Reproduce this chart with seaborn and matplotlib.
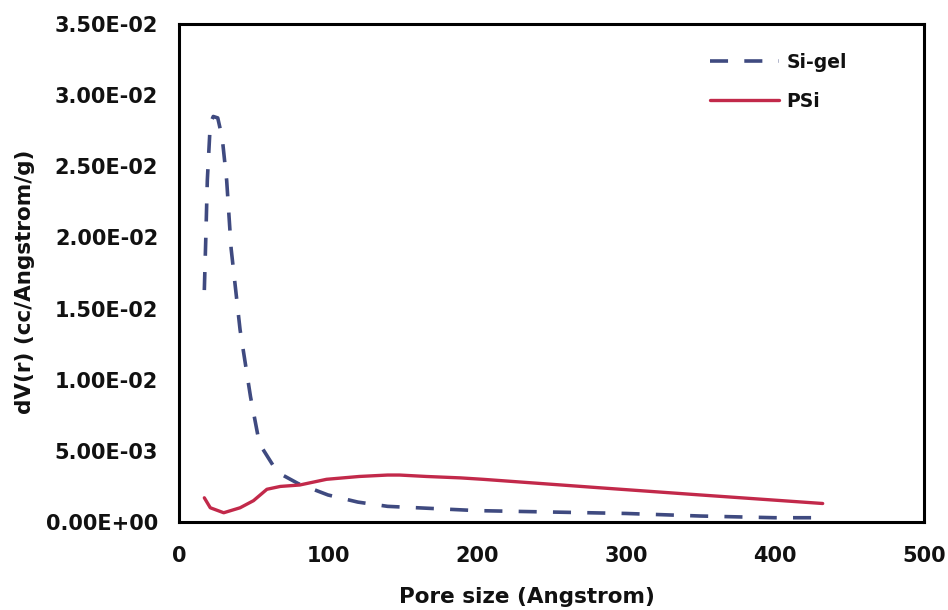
import matplotlib
matplotlib.use("Agg")
import matplotlib.pyplot as plt
import seaborn as sns
import pandas as pd

# Data
sigel_x = [17, 18, 19, 21, 23, 26, 29, 32, 35, 41, 48, 54, 66, 80, 100, 120, 140, 160, 200, 250, 300, 350, 400, 430]
sigel_y = [0.0163, 0.0200, 0.0240, 0.0280, 0.0285, 0.0284, 0.0270, 0.0240, 0.0192, 0.0135, 0.0088, 0.0055,
           0.0035, 0.0027, 0.0019, 0.0014, 0.0011, 0.0010, 0.0008, 0.0007, 0.0006, 0.00042, 0.0003, 0.0003]

psi_x = [17, 21, 30, 41, 50, 59, 68, 81, 99, 121, 140, 148, 166, 189, 204, 283, 350, 432]
psi_y = [0.0017, 0.0010, 0.00065, 0.0010, 0.0015, 0.0023, 0.0025, 0.0026, 0.0030, 0.0032, 0.0033, 0.0033,
         0.0032, 0.0031, 0.0030, 0.0024, 0.0019, 0.0013]

series_names = ["Si-gel", "PSi"]
x_ticks = [0, 100, 200, 300, 400, 500]
y_ticks = [0.0, 0.005, 0.010, 0.015, 0.020, 0.025, 0.030, 0.035]
y_tick_labels = ["0.00E+00", "5.00E-03", "1.00E-02", "1.50E-02", "2.00E-02", "2.50E-02", "3.00E-02", "3.50E-02"]

sns.set_style("white")
plt.rcParams['font.family'] = ['DejaVu Sans']
plt.rcParams['text.color'] = '#111111'
plt.rcParams['xtick.color'] = '#111111'
plt.rcParams['ytick.color'] = '#111111'
plt.rcParams['axes.labelcolor'] = '#111111'

fig = plt.figure(figsize=(9.48, 6.10), dpi=100)
ax = fig.add_axes([179/948, 1 - 522/610, (924-179)/948, (522-24)/610])

df_sigel = pd.DataFrame({"x": sigel_x, "y": sigel_y})
df_psi = pd.DataFrame({"x": psi_x, "y": psi_y})

sns.lineplot(data=df_sigel, x="x", y="y", ax=ax, color="#3f4a80", linewidth=2.6,
             label=series_names[0], linestyle=(0, (5, 4.5)))
sns.lineplot(data=df_psi, x="x", y="y", ax=ax, color="#c2294a", linewidth=2.4,
             label=series_names[1])

ax.set_xlim(0, 500)
ax.set_ylim(0, 0.035)
ax.set_xticks(x_ticks)
ax.set_xticklabels([str(t) for t in x_ticks])
ax.set_yticks(y_ticks)
ax.set_yticklabels(y_tick_labels)
ax.tick_params(axis='both', length=0, labelsize=15)
ax.tick_params(axis='x', pad=17)
ax.tick_params(axis='y', pad=15)
for lab in ax.get_xticklabels() + ax.get_yticklabels():
    lab.set_fontweight('bold')

for s in ax.spines.values():
    s.set_visible(True)
    s.set_color('black')
    s.set_linewidth(2.2)

ax.set_xlabel("Pore size (Angstrom)", fontsize=15.5, fontweight='bold')
ax.set_ylabel("dV(r) (cc/Angstrom/g)", fontsize=15.5, fontweight='bold')
ax.xaxis.set_label_coords((527-179)/745, (522-597)/498)
ax.xaxis.label.set_verticalalignment('center')
ax.yaxis.set_label_coords((25-179)/745, (522-282)/498)
ax.yaxis.label.set_verticalalignment('center')
ax.yaxis.label.set_horizontalalignment('center')

leg = ax.legend(loc='upper left', bbox_to_anchor=(710/948, 1 - 53/610), bbox_transform=fig.transFigure,
                frameon=False, fontsize=13.5, handlelength=3.7, handletextpad=0.37,
                labelspacing=1.05, borderpad=0, borderaxespad=0)
for t in leg.get_texts():
    t.set_fontweight('bold')

fig.savefig("out.png", dpi=100)
